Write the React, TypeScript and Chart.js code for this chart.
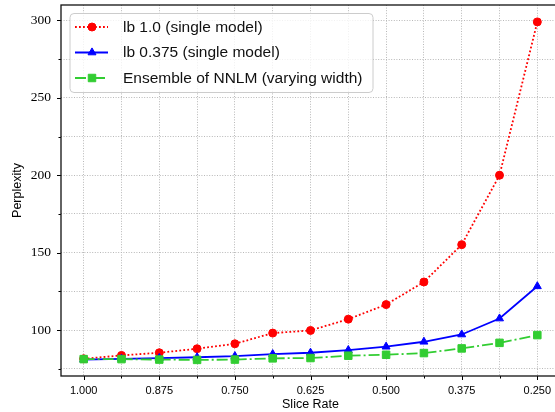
import React, { useEffect, useRef } from "react";
import { Chart, registerables } from "chart.js";

Chart.register(...registerables);

const sliceRates = [1.0, 0.9375, 0.875, 0.8125, 0.75, 0.6875, 0.625, 0.5625, 0.5, 0.4375, 0.375, 0.3125, 0.25];
const lb10 = [81.5, 83.7, 85.4, 88.0, 91.2, 98.1, 99.8, 107.1, 116.5, 131.1, 155.2, 200.0, 299.0];
const lb0375 = [81.0, 81.5, 82.0, 82.5, 83.2, 84.5, 85.4, 87.1, 89.3, 92.5, 97.2, 107.5, 128.3];
const ensemble = [81.3, 81.3, 81.0, 80.8, 81.0, 81.8, 82.0, 83.5, 84.1, 85.2, 88.2, 91.8, 96.8];
const seriesLabels = ["lb 1.0 (single model)", "lb 0.375 (single model)", "Ensemble of NNLM (varying width)"];
const xTickValues = [1.0, 0.9375, 0.875, 0.8125, 0.75, 0.6875, 0.625, 0.5625, 0.5, 0.4375, 0.375, 0.3125, 0.25];
const yTickValues = [75, 100, 125, 150, 175, 200, 225, 250, 275, 300];
const xTitle = "Slice Rate";
const yTitle = "Perplexity";

const SANS = "'Liberation Sans', Arial, sans-serif";
const SERIF = "'Liberation Serif', 'Times New Roman', serif";

const styles = [
  { color: "#ff0000", dash: [1.8, 2.2], point: "circle", radius: 4 },
  { color: "#0000ff", dash: [], point: "triangle", radius: 4.6 },
  { color: "#32cd32", dash: [11, 3, 2, 3], point: "rect", radius: 5.3 },
];

const isMajorX = (v: number) => Math.abs(v * 8 - Math.round(v * 8)) < 1e-6;
const isMajorY = (v: number) => v % 50 === 0;

function drawMarker(ctx: CanvasRenderingContext2D, kind: string, x: number, y: number, r: number) {
  ctx.beginPath();
  if (kind === "circle") {
    ctx.arc(x, y, r, 0, Math.PI * 2);
  } else if (kind === "triangle") {
    let rad = 0;
    const step = (2 * Math.PI) / 3;
    ctx.moveTo(x + Math.sin(rad) * r, y - Math.cos(rad) * r);
    rad += step;
    ctx.lineTo(x + Math.sin(rad) * r, y - Math.cos(rad) * r);
    rad += step;
    ctx.lineTo(x + Math.sin(rad) * r, y - Math.cos(rad) * r);
    ctx.closePath();
  } else {
    const s = Math.SQRT1_2 * r;
    ctx.rect(x - s, y - s, 2 * s, 2 * s);
  }
  ctx.fill();
  ctx.stroke();
}

const decorPlugin = {
  id: "decor",
  afterDraw(chart: any) {
    const { ctx, chartArea: a, scales } = chart;
    const xs = scales.x;
    const ys = scales.y;
    ctx.save();
    ctx.strokeStyle = "#000";
    ctx.lineWidth = 1;
    ctx.setLineDash([]);
    xs.ticks.forEach((t: any) => {
      const px = Math.round(xs.getPixelForValue(t.value)) + 0.5;
      const len = isMajorX(t.value) ? 4 : 2.5;
      ctx.beginPath();
      ctx.moveTo(px, a.bottom);
      ctx.lineTo(px, a.bottom + len);
      ctx.stroke();
    });
    ys.ticks.forEach((t: any) => {
      const py = Math.round(ys.getPixelForValue(t.value)) + 0.5;
      const len = isMajorY(t.value) ? 4 : 2.5;
      ctx.beginPath();
      ctx.moveTo(a.left, py);
      ctx.lineTo(a.left - len, py);
      ctx.stroke();
    });
    // frame
    ctx.lineWidth = 1.3;
    ctx.strokeStyle = "#111";
    ctx.strokeRect(a.left, a.top, a.right - a.left, a.bottom - a.top);

    // legend
    const lx = 70, ly = 13.5, lw = 303, lh = 79, rr = 4;
    ctx.beginPath();
    ctx.moveTo(lx + rr, ly);
    ctx.lineTo(lx + lw - rr, ly);
    ctx.quadraticCurveTo(lx + lw, ly, lx + lw, ly + rr);
    ctx.lineTo(lx + lw, ly + lh - rr);
    ctx.quadraticCurveTo(lx + lw, ly + lh, lx + lw - rr, ly + lh);
    ctx.lineTo(lx + rr, ly + lh);
    ctx.quadraticCurveTo(lx, ly + lh, lx, ly + lh - rr);
    ctx.lineTo(lx, ly + rr);
    ctx.quadraticCurveTo(lx, ly, lx + rr, ly);
    ctx.closePath();
    ctx.fillStyle = "rgba(255,255,255,0.8)";
    ctx.fill();
    ctx.strokeStyle = "#cccccc";
    ctx.lineWidth = 1;
    ctx.stroke();

    const rows = [27, 52.5, 78];
    seriesLabels.forEach((label, i) => {
      const s = styles[i];
      const y = rows[i];
      ctx.strokeStyle = s.color;
      ctx.fillStyle = s.color;
      ctx.lineWidth = 1.8;
      ctx.setLineDash(s.dash);
      ctx.beginPath();
      ctx.moveTo(75, y);
      ctx.lineTo(108, y);
      ctx.stroke();
      ctx.setLineDash([]);
      ctx.lineWidth = 1;
      drawMarker(ctx, s.point, 92, y, s.radius);
      ctx.fillStyle = "#111";
      ctx.font = `15.5px ${SANS}`;
      ctx.textAlign = "left";
      ctx.textBaseline = "middle";
      ctx.fillText(label, 123, y + 0.5);
    });
    ctx.restore();
  },
};

export default function App() {
  const ref = useRef<HTMLCanvasElement | null>(null);

  useEffect(() => {
    if (!ref.current) return;
    const seriesValues = [lb10, lb0375, ensemble];
    const chart = new Chart(ref.current, {
      type: "line",
      data: {
        datasets: seriesValues.map((vals, i) => ({
          label: seriesLabels[i],
          data: sliceRates.map((x, j) => ({ x, y: vals[j] })),
          borderColor: styles[i].color,
          backgroundColor: styles[i].color,
          borderWidth: 1.8,
          borderDash: styles[i].dash,
          pointStyle: styles[i].point as any,
          pointRadius: styles[i].radius,
          pointBorderWidth: 1,
          pointBorderColor: styles[i].color,
          pointBackgroundColor: styles[i].color,
          tension: 0,
          fill: false,
          clip: 8,
          order: 3 - i,
        })),
      },
      options: {
        responsive: false,
        animation: false,
        devicePixelRatio: 1,
        layout: { autoPadding: false, padding: { top: 5, right: 0, left: 0, bottom: 0 } },
        plugins: { legend: { display: false }, tooltip: { enabled: false } },
        scales: {
          x: {
            type: "linear",
            reverse: true,
            min: 0.2125,
            max: 1.0375,
            afterBuildTicks: (scale: any) => {
              scale.ticks = xTickValues.map((v) => ({ value: v }));
            },
            afterFit: (scale: any) => {
              scale.height = 36;
              scale.paddingLeft = 0;
              scale.paddingRight = 0;
            },
            ticks: {
              autoSkip: false,
              maxRotation: 0,
              padding: 8,
              color: "#000",
              font: { family: SANS, size: 11 },
              callback: (v: any) => (isMajorX(Number(v)) ? Number(v).toFixed(3) : ""),
            },
            grid: {
              color: "#b8b8b8",
              lineWidth: 1,
              drawTicks: false,
            },
            border: { display: false, dash: [1, 1.6] },
            title: {
              display: true,
              text: xTitle,
              color: "#000",
              font: { family: SANS, size: 12.5 },
              padding: { top: 0, bottom: 0 },
            },
          },
          y: {
            type: "linear",
            min: 70.4,
            max: 309.9,
            afterBuildTicks: (scale: any) => {
              scale.ticks = yTickValues.map((v) => ({ value: v }));
            },
            afterFit: (scale: any) => {
              scale.width = 61;
              scale.paddingTop = 0;
              scale.paddingBottom = 0;
            },
            ticks: {
              autoSkip: false,
              padding: 10,
              color: "#000",
              font: { family: SERIF, size: 13.5 },
              callback: (v: any) => (isMajorY(Number(v)) ? String(v) : ""),
            },
            grid: {
              color: "#b8b8b8",
              lineWidth: 1,
              drawTicks: false,
            },
            border: { display: false, dash: [1, 1.6] },
            title: {
              display: true,
              text: yTitle,
              color: "#000",
              font: { family: SANS, size: 12.5 },
              padding: { top: 10, bottom: 0 },
            },
          },
        },
      },
      plugins: [decorPlugin],
    } as any);
    return () => chart.destroy();
  }, []);

  return (
    <div
      style={{
        position: "absolute",
        left: 0,
        top: 0,
        width: 555,
        height: 412,
        overflow: "hidden",
        background: "#fff",
      }}
    >
      <canvas ref={ref} width={560} height={412} style={{ display: "block" }} />
    </div>
  );
}
